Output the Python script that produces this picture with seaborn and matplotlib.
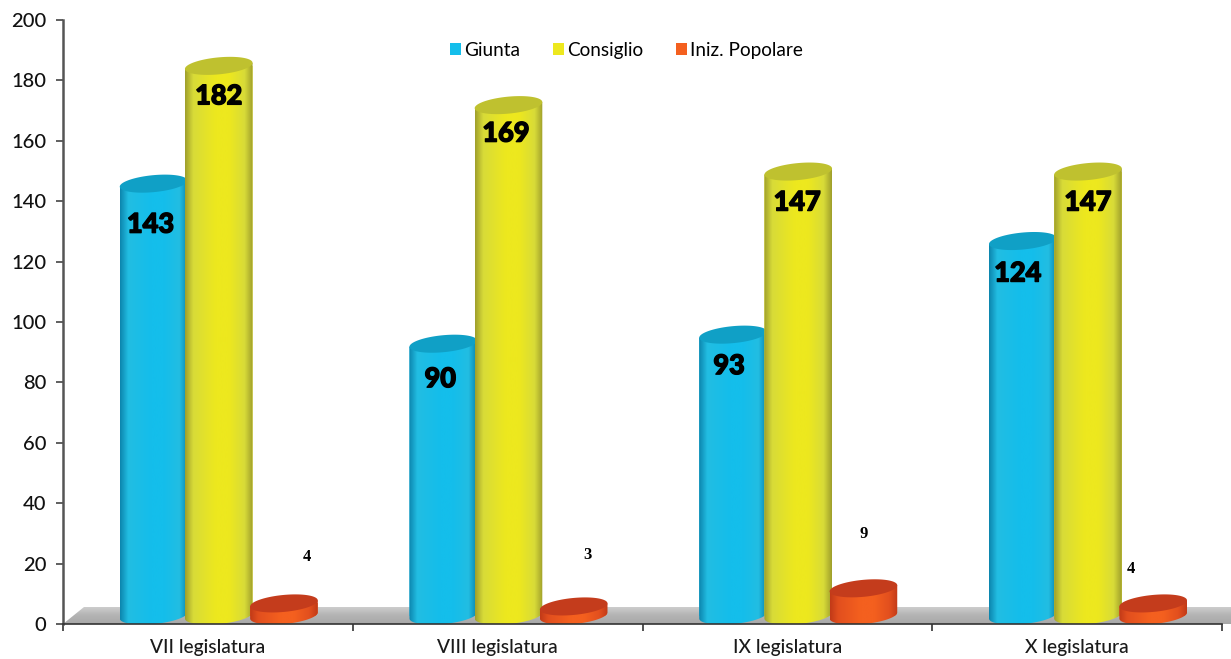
import numpy as np
import pandas as pd
import matplotlib
matplotlib.use('Agg')
import matplotlib.pyplot as plt
import matplotlib.patheffects as pe
import seaborn as sns
from matplotlib.colors import LinearSegmentedColormap
from matplotlib.patches import Polygon

legislature = ['VII legislatura', 'VIII legislatura', 'IX legislatura', 'X legislatura']
series = ['Giunta', 'Consiglio', 'Iniz. Popolare']
giunta = [143, 90, 93, 124]
consiglio = [182, 169, 147, 147]
popolare = [4, 3, 9, 4]

# label nudges in pixels (baseline of the digits vs top of the bar)
big_dx = [[-3, -3, -4, -5], [0, -2.5, -1, 0]]
big_dy = [[-49, -43.5, -39.5, -40.5], [-38.5, -36.5, -39, -39]]
small_dx = [22.6, 14, 0, -22.7]
small_dy = [42, 47, 50.5, 30]

base_colors = ['#14BEEB', '#EDE81E', '#F4601F']
light_colors = ['#22BDE2', '#D8DB38', '#E24F1E']
dark_colors = ['#0C86AE', '#A0A02C', '#C23A18']
top_colors = ['#10A0C6', '#BFC12F', '#C43C1C']

W, H = 1231, 659
fig = plt.figure(figsize=(W / 100, H / 100), dpi=100)
ax = fig.add_axes([63 / W, 1 - 624 / H, 1159 / W, 604 / H])

df = pd.DataFrame({
    'legislatura': legislature * 3,
    'serie': sum([[s] * 4 for s in series], []),
    'valore': giunta + consiglio + popolare,
})
sns.barplot(data=df, x='legislatura', y='valore', hue='serie', order=legislature,
            hue_order=series, palette=base_colors, width=0.675, gap=0, saturation=1, ax=ax)

xlim = (-0.5375, 3.4625)
ylim = (0, 200)
px_x = (xlim[1] - xlim[0]) / 1159
px_y = 200 / 604
lift = 8.5 * px_y       # cylinders stand on the floor, not on the axis
half_h = 8.5
shear = 0.09


def ring(cx, cy, half_w, t):
    xs = cx + half_w * np.cos(t)
    ys = cy + (half_h * np.sin(t) + shear * (half_w / px_x) * np.cos(t)) * px_y
    return np.column_stack([xs, ys])


# floor
floor = [(xlim[0], 0), (xlim[0] + 21 * px_x, 17 * px_y),
         (xlim[1] + 9 * px_x, 17 * px_y), (xlim[1] + 9 * px_x, 0)]
floor_img = ax.imshow(np.linspace(0, 1, 64).reshape(-1, 1), origin='lower',
                      extent=(floor[0][0], floor[3][0], 0, 17 * px_y), aspect='auto', zorder=1,
                      cmap=LinearSegmentedColormap.from_list('floor', ['#A8A8A8', '#B4B4B4', '#D0D0D0']))
floor_patch = Polygon(floor, transform=ax.transData, fill=False, lw=0, clip_on=False)
ax.add_patch(floor_patch)
floor_img.set_clip_box(fig.bbox)
floor_img.set_clip_path(floor_patch)

t_low = np.linspace(np.pi, 2 * np.pi, 60)
t_full = np.linspace(0, 2 * np.pi, 120)
stops = [0, 0.12, 0.45, 0.65, 0.88, 1]

for i, cont in enumerate(ax.containers):
    cmap = LinearSegmentedColormap.from_list(series[i], list(zip(stops, [
        dark_colors[i], light_colors[i], base_colors[i], base_colors[i], light_colors[i], dark_colors[i]])))
    for j, bar in enumerate(cont):
        z = 3 + i + j * 0.01
        cx = bar.get_x() + bar.get_width() / 2
        half_w = 33.8 * px_x
        v = bar.get_height()
        bar.set_x(cx - half_w)
        bar.set_width(2 * half_w)
        bar.set_y(lift)
        bar.set_zorder(z)

        low = ring(cx, lift, half_w, t_low)
        right_top = ring(cx, lift + v, half_w, np.array([0.0]))
        left_top = ring(cx, lift + v, half_w, np.array([np.pi]))
        body = Polygon(np.vstack([low, right_top, left_top]), closed=True, fill=False, lw=0,
                       transform=ax.transData)
        ax.add_patch(body)
        bar.set_clip_path(body)
        img = ax.imshow(np.linspace(0, 1, 128).reshape(1, -1), cmap=cmap, aspect='auto', zorder=z + 0.1,
                        extent=(cx - half_w, cx + half_w, 0, lift + v + 4), vmin=0, vmax=1)
        img.set_clip_path(body)
        ax.add_patch(Polygon(ring(cx, lift + v, half_w, t_full), closed=True, fc=top_colors[i], ec='none',
                             zorder=z + 0.2))

        if i < 2:
            ax.annotate(str(int(v)), (cx, lift + v), xycoords='data', textcoords='offset pixels',
                        xytext=(big_dx[i][j], big_dy[i][j]), ha='center', va='baseline',
                        fontsize=19.5, fontweight=900, color='black', family='Lato', zorder=20,
                        path_effects=[pe.withStroke(linewidth=1.0, foreground='black')])
        else:
            ax.annotate(str(int(v)), (cx, lift + v), xycoords='data', textcoords='offset pixels',
                        xytext=(small_dx[j], small_dy[j]), ha='center', va='baseline',
                        fontsize=12, fontweight='bold', color='black', family='Liberation Serif', zorder=20)

ax.set_xlim(*xlim)
ax.set_ylim(*ylim)
ax.set_xlabel('')
ax.set_ylabel('')
ax.set_yticks(range(0, 201, 20))
ax.set_xticks([k - 0.0375 for k in range(4)])
ax.set_xticklabels(legislature)
ax.set_xticks([k - 0.5375 for k in range(5)], minor=True)
ax.tick_params(axis='x', which='major', length=0, pad=11, labelsize=13.8, colors='#1a1a1a')
ax.tick_params(axis='x', which='minor', length=5, width=1.2, color='#333333')
ax.tick_params(axis='y', length=5, width=1.2, color='#444444', labelsize=14.5, labelcolor='#111111', pad=7)
for lab in ax.get_xticklabels() + ax.get_yticklabels():
    lab.set_family('Lato')
    lab.set_fontweight('medium')

ax.spines['top'].set_visible(False)
ax.spines['right'].set_visible(False)
ax.spines['left'].set_color('#555555')
ax.spines['left'].set_linewidth(1.8)
ax.spines['bottom'].set_color('#333333')
ax.spines['bottom'].set_linewidth(1.2)
ax.spines['left'].set_zorder(30)
ax.spines['bottom'].set_zorder(30)

sns.move_legend(ax, 'center', bbox_to_anchor=(0.486, 0.9497), ncols=3, title=None, frameon=False,
                handlelength=0.6, handleheight=0.6, handletextpad=0.15, columnspacing=1.72,
                prop={'family': 'Lato', 'size': 13.7})

fig.savefig('out.png', dpi=100)
